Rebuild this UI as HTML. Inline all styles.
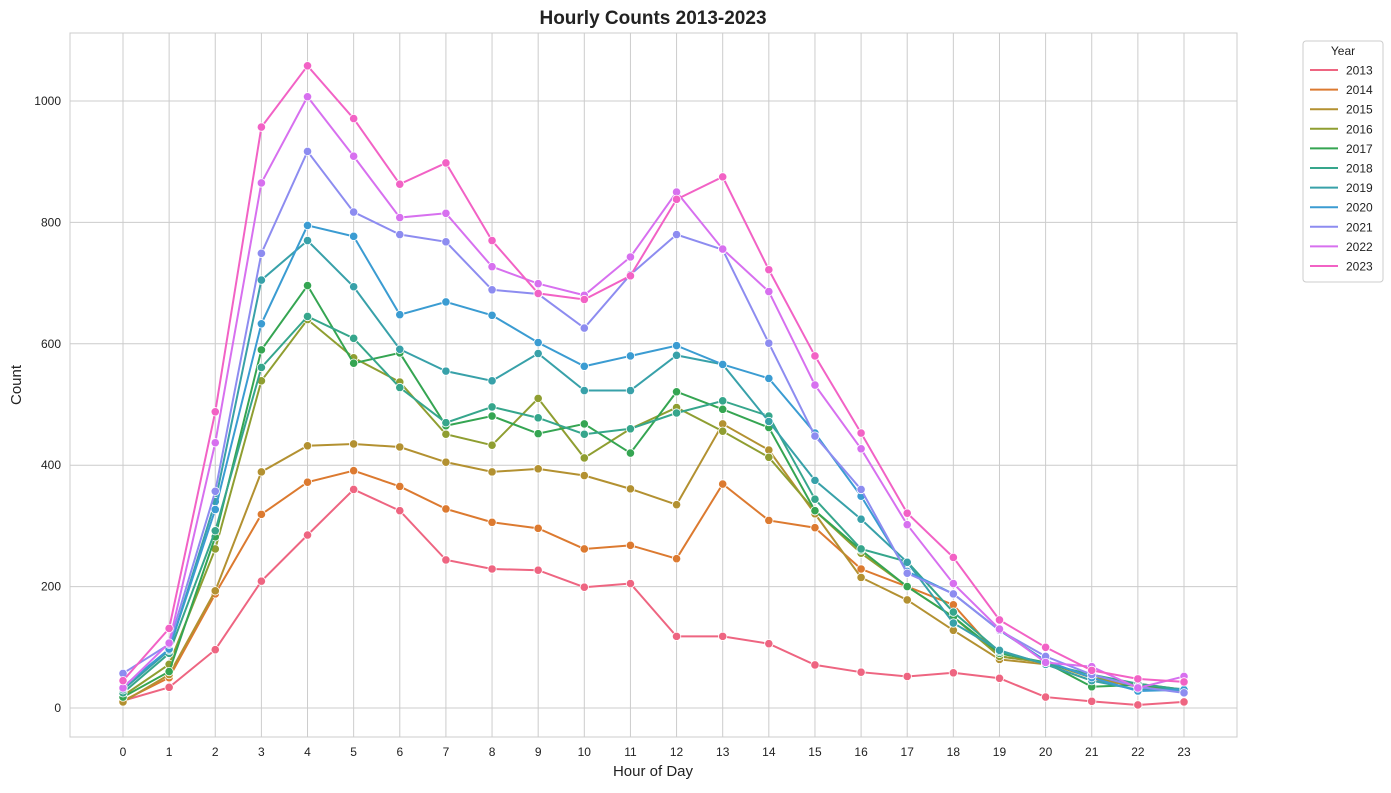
<!DOCTYPE html>
<html><head><meta charset="utf-8"><style>
body{margin:0;background:#fff;font-family:"Liberation Sans",Arial,sans-serif}
svg text{font-family:"Liberation Sans",Arial,sans-serif;fill:#222}
</style></head><body>
<svg id="chart" width="1391" height="788" xmlns="http://www.w3.org/2000/svg">
<rect width="1391" height="788" fill="#fff"/>
<text x="653" y="24" text-anchor="middle" font-size="19" font-weight="bold">Hourly Counts 2013-2023</text>
<g id="grid"></g>
<rect x="70" y="33" width="1167" height="704" fill="none" stroke="#ccc" stroke-width="1"/>
<g id="series"></g>
<g id="ticks"></g>
<text x="653" y="776" text-anchor="middle" font-size="15">Hour of Day</text>
<text x="21" y="385" text-anchor="middle" font-size="15" transform="rotate(-90 21 385)">Count</text>
<g id="legend"></g>
</svg>
<script>
const hours=[0,1,2,3,4,5,6,7,8,9,10,11,12,13,14,15,16,17,18,19,20,21,22,23];
const years=["2013","2014","2015","2016","2017","2018","2019","2020","2021","2022","2023"];
const yTicks=[0,200,400,600,800,1000];
const s2013=[12,34,96,209,285,360,325,244,229,227,199,205,118,118,106,71,59,52,58,49,18,11,5,10];
const s2014=[12,50,188,319,372,391,365,328,306,296,262,268,246,369,309,297,229,200,170,85,75,50,35,30];
const s2015=[10,55,193,389,432,435,430,405,389,394,383,361,335,468,425,320,215,178,128,80,72,45,38,28];
const s2016=[20,72,262,539,640,577,537,451,433,510,412,460,495,456,413,325,255,200,150,85,75,50,40,30];
const s2017=[18,60,282,590,696,568,585,465,481,452,468,420,521,492,462,325,260,200,150,90,75,35,38,30];
const s2018=[25,90,292,561,645,609,528,470,496,478,451,460,486,506,481,344,262,241,158,93,73,55,40,30];
const s2019=[30,95,340,705,770,694,591,555,539,584,523,523,581,566,472,375,311,240,140,95,72,45,30,32];
const s2020=[35,97,327,633,795,777,648,669,647,602,563,580,597,566,543,453,349,225,188,128,78,50,28,30];
const s2021=[57,105,357,749,917,817,780,768,689,682,626,714,780,755,601,448,360,222,188,128,85,55,35,25];
const s2022=[33,107,437,865,1007,909,808,815,727,699,680,743,850,756,686,532,427,302,205,130,75,68,33,52];
const s2023=[45,131,488,957,1058,971,863,898,770,683,673,712,838,875,722,580,453,321,248,145,100,62,48,43];
const allSeries=[s2013,s2014,s2015,s2016,s2017,s2018,s2019,s2020,s2021,s2022,s2023];
const colors=["#ee6581","#dc7a30","#b39131","#8f9e31","#35a552","#36a68c","#38a1a9","#3b9cd2","#8d8cf0","#d770ef","#f262c5"];
const X=h=>123+h*(1184-123)/23;
const Y=v=>708-v*(708-101)/1000;
const NS="http://www.w3.org/2000/svg";
function mk(tag,attrs,parent){const e=document.createElementNS(NS,tag);for(const k in attrs)e.setAttribute(k,attrs[k]);parent.appendChild(e);return e;}
const grid=document.getElementById('grid'),ticks=document.getElementById('ticks');
hours.forEach(h=>{
 const l=mk('line',{x1:X(h),x2:X(h),y1:33,y2:737,stroke:'#ccc','stroke-width':1},grid);
 
 
 const t=mk('text',{x:X(h),y:756,'text-anchor':'middle','font-size':12},ticks);
 t.textContent=h;
 
 
});
yTicks.forEach(v=>{
 const l=mk('line',{x1:70,x2:1237,y1:Y(v),y2:Y(v),stroke:'#ccc','stroke-width':1},grid);
 
 
 const t=mk('text',{x:61,y:Y(v)+4,'text-anchor':'end','font-size':12},ticks);
 t.textContent=v;
 
 
});
const sg=document.getElementById('series');
allSeries.forEach((s,i)=>{
 const g=mk('g',{},sg);
 
 
 const p=mk('polyline',{points:s.map((v,h)=>X(h)+','+Y(v)).join(' '),fill:'none',stroke:colors[i],'stroke-width':2},g);
 
 
 s.forEach((v,h)=>{
  const c=mk('circle',{cx:X(h),cy:Y(v),r:4.2,fill:colors[i],stroke:'#fff','stroke-width':0.8},g);
  
  
 });
});
const lg=document.getElementById('legend');
mk('rect',{x:1303,y:41,width:80,height:241,rx:3,fill:'#fff',stroke:'#ccc','stroke-width':1},lg);
const lt=mk('text',{x:1343,y:55,'text-anchor':'middle','font-size':12},lg);
lt.textContent='Year';


years.forEach((y,i)=>{
 const yy=70+i*19.6;
 const g=mk('g',{},lg);
 
 
 mk('line',{x1:1310,x2:1338,y1:yy,y2:yy,stroke:colors[i],'stroke-width':2},g);
 const t=mk('text',{x:1346,y:yy+4.5,'font-size':12},g);
 t.textContent=y;
});
</script>
</body></html>
